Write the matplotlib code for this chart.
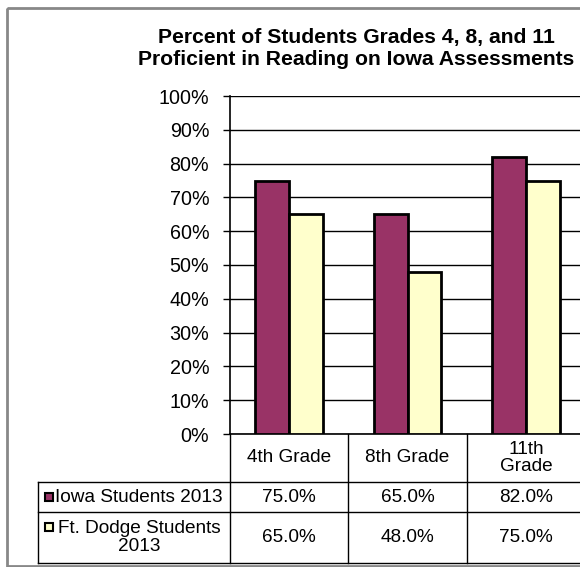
import numpy as np
import matplotlib.pyplot as plt
from matplotlib.patches import Rectangle
from matplotlib.transforms import blended_transform_factory

plt.rcParams['font.family'] = ['Liberation Sans', 'DejaVu Sans']

# данные
grades = ["4th Grade", "8th Grade", "11th\nGrade"]
series_names = ["Iowa Students 2013", "Ft. Dodge Students\n2013"]
iowa = [75.0, 65.0, 82.0]
ft_dodge = [65.0, 48.0, 75.0]
colors = ["#993366", "#FFFFCC"]
yticks = np.arange(0, 101, 10)

W, H = 580, 567
fig = plt.figure(figsize=(W / 100, H / 100), dpi=100)

# слой в пикселях для рамки, заголовка и таблицы
lay = fig.add_axes([0, 0, 1, 1])
lay.set_xlim(0, W)
lay.set_ylim(H, 0)
lay.axis('off')

# область графика (правый край уходит за кадр, как в оригинале)
left_px, right_px, top_px, bot_px = 230, 585, 96, 434
ax = fig.add_axes([left_px / W, (H - bot_px) / H,
                   (right_px - left_px) / W, (bot_px - top_px) / H])

x = np.arange(len(grades))
bw = 0.287
for i, (vals, c) in enumerate(zip([iowa, ft_dodge], colors)):
    ax.bar(x + (i - 0.5) * bw, vals, bw, color=c, edgecolor='black',
           linewidth=2, zorder=3)

ax.set_xlim(-0.5, len(grades) - 0.5)
ax.set_ylim(0, 100)
ax.set_yticks(yticks)
ax.set_yticklabels([f"{v}%" for v in yticks], fontsize=14.2)
ax.set_xticks([])
ax.yaxis.grid(True, color='black', linewidth=1)
ax.set_axisbelow(True)
for s in ['top', 'right']:
    ax.spines[s].set_visible(False)
ax.spines['left'].set_linewidth(1.2)
ax.spines['bottom'].set_linewidth(1.2)
ax.tick_params(axis='y', direction='out', length=5, width=1, pad=10)
ax.patch.set_alpha(0)

# внешняя рамка
lay.add_patch(Rectangle((7, 8), 800, 558, fill=False, edgecolor='#888888',
                        linewidth=2))

# заголовок
tstyle = dict(ha='center', va='baseline', fontsize=15.2, fontweight='bold')
lay.text(356, 43, "Percent of Students Grades 4, 8, and 11", **tstyle)
lay.text(356, 65, "Proficient in Reading on Iowa Assessments", **tstyle)

# таблица данных под графиком
tr = blended_transform_factory(ax.transData, lay.transData)
row_y = [bot_px, 482, 512, 563]
lw = 1
for k in range(len(grades) + 1):
    lay.plot([k - 0.5, k - 0.5], [row_y[0], row_y[-1]], color='black',
             lw=lw, transform=tr, clip_on=False)
for yy in row_y[1:]:
    lay.plot([38, 800], [yy, yy], color='black', lw=lw, clip_on=False)
lay.plot([38, 38], [row_y[1], row_y[-1]], color='black', lw=lw)

fs = 13.7
for k, g in enumerate(grades):
    ax_y = (row_y[0] + row_y[1]) / 2
    lay.text(k, ax_y, g, ha='center', va='center', fontsize=fs,
             transform=tr, linespacing=1.05)
for r, (vals, name, c) in enumerate(zip([iowa, ft_dodge], series_names, colors)):
    cy = (row_y[r + 1] + row_y[r + 2]) / 2
    for k, v in enumerate(vals):
        lay.text(k, cy, f"{v:.1f}%", ha='center', va='center', fontsize=fs,
                 transform=tr)
    lay.text(139, cy, name, ha='center', va='center', fontsize=fs,
             multialignment='center', linespacing=1.05)
    sq_y = 497 if r == 0 else 527
    lay.add_patch(Rectangle((45, sq_y - 4), 8, 8, facecolor=c,
                            edgecolor='black', linewidth=1.5))

fig.savefig('out.png', dpi=100)
